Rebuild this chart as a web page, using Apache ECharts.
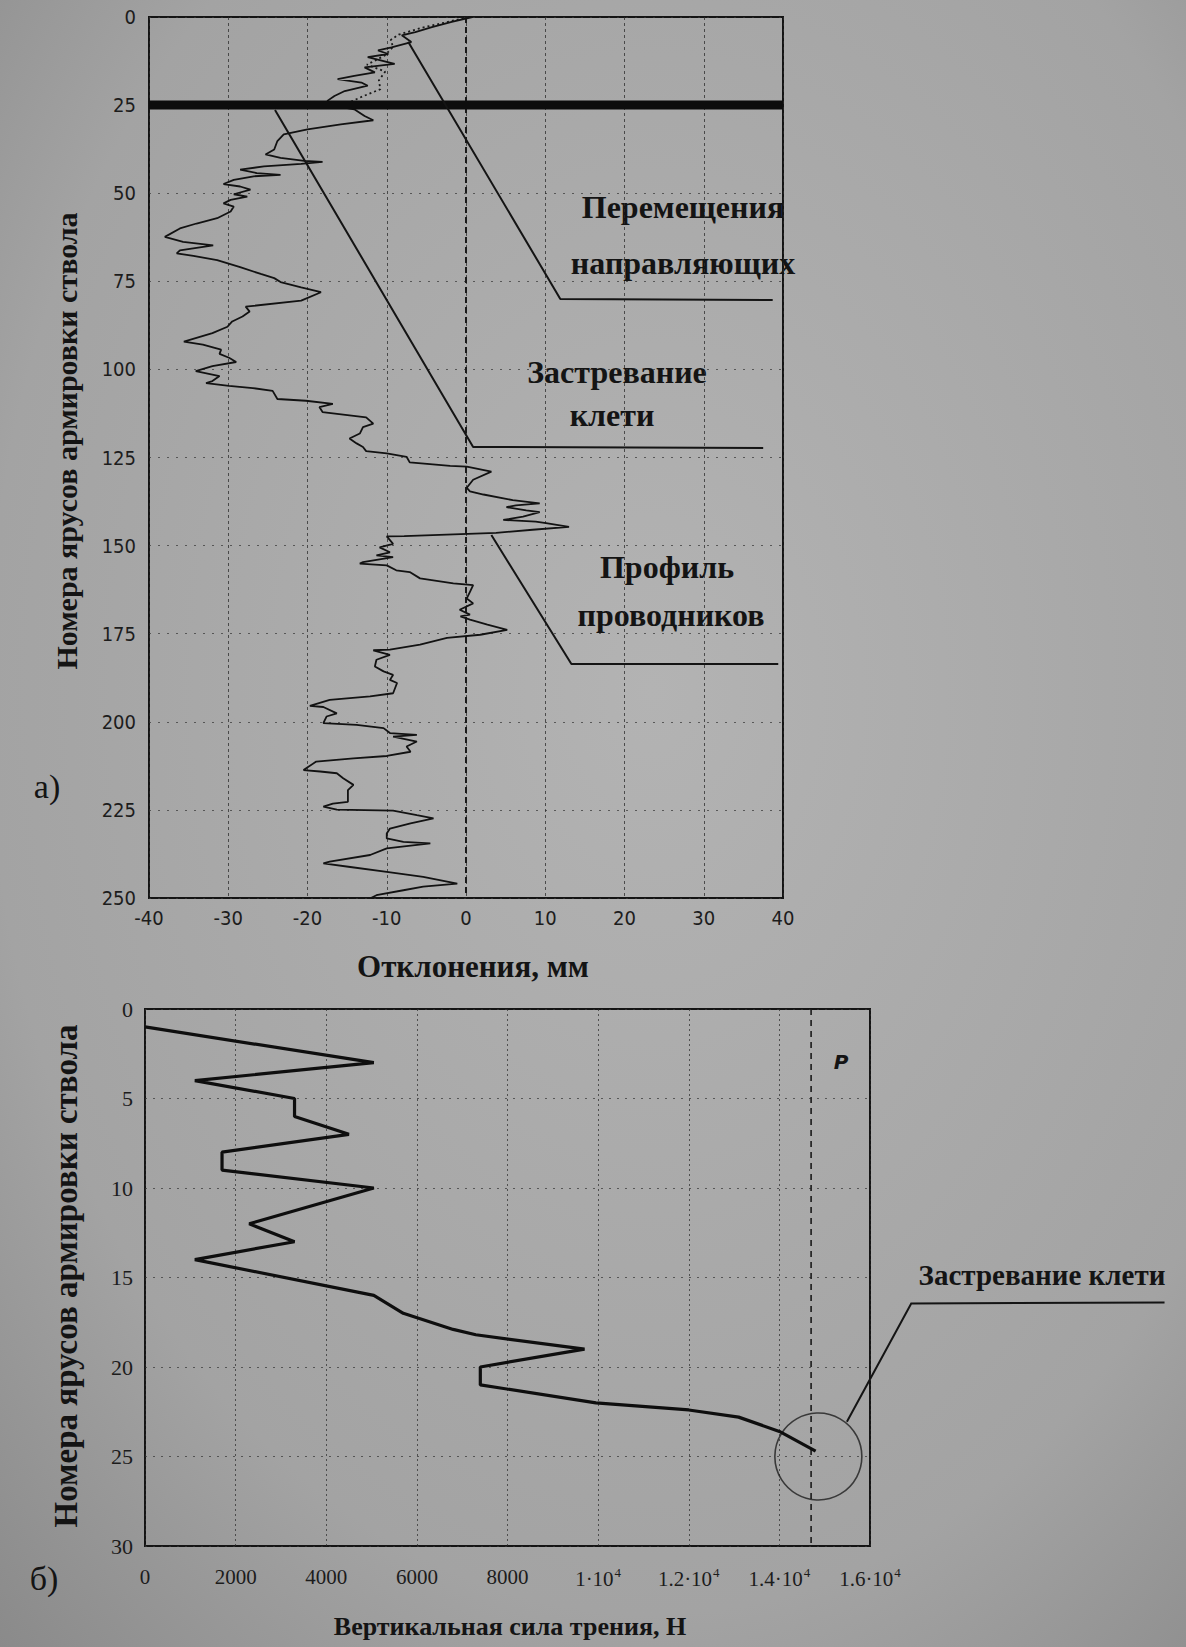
<!DOCTYPE html>
<html>
<head>
<meta charset="utf-8">
<script src="https://cdn.jsdelivr.net/npm/echarts@6/dist/echarts.min.js"></script>
<style>
html,body{margin:0;padding:0;background:#a4a4a4;}
#chart{width:1186px;height:1647px;}
</style>
</head>
<body>
<div id="chart"></div>
<script>
// ---------- Chart (a): profile of guides ----------
const profDepth = [0,1.4,2.9,4.3,5.2,7.1,8.6,9.5,10.5,11.4,13.3,14.3,15.7,16.7,17.6,18.6,19.5,21.0,22.4,23.8,25.2,26.2,28.1,29.3,30.5,31.9,33.3,35.2,37.6,39.0,40.0,40.8,41.1,41.7,42.4,43.3,44.3,44.8,45.2,46.2,47.4,48.1,49.0,50.3,51.0,51.9,52.9,53.8,55.2,57.1,58.6,60.0,62.4,63.8,64.8,66.2,67.1,67.8,69.0,71.0,72.9,74.1,75.2,76.7,78.1,80.5,82.2,83.6,85.0,86.4,87.9,89.7,92.1,93.0,94.4,95.6,96.7,97.9,99.1,100.5,101.9,103.3,103.9,104.7,105.3,106.1,108.4,108.9,109.8,110.7,112.1,113.6,115.4,116.4,118.2,119.6,121.0,122.0,123.2,123.8,124.8,126.4,127.4,127.6,129.0,131.3,133.6,134.6,135.5,137.1,138.0,138.6,139.1,140.0,140.5,141.8,142.7,143.2,143.6,144.7,145.5,146.4,147.3,147.4,149.5,150.5,151.9,152.8,153.3,154.7,155.1,155.6,157.0,157.5,159.3,160.7,161.2,163.1,165.0,166.4,168.2,169.6,170.1,171.0,172.4,173.9,175.3,176.2,178.1,179.5,179.7,181.0,182.4,184.3,185.7,186.7,188.1,189.0,191.9,192.8,193.8,195.5,195.8,197.6,198.5,200.4,200.9,201.8,203.2,203.7,204.2,205.6,207.0,208.5,209.7,210.4,211.3,213.7,214.1,214.6,216.0,217.9,219.4,222.7,223.2,224.1,224.9,225.2,226.5,227.4,228.8,230.3,231.7,233.1,234.1,234.5,235.9,237.8,239.7,240.2,241.2,242.6,244.0,245.9,246.8,247.8,249.2,250];
const profDev = [0.8,-1.8,-4.3,-6.4,-8.1,-6.9,-9.4,-11.1,-9.8,-12.4,-9.0,-12.8,-11.5,-14.1,-16.2,-13.2,-12.4,-15.3,-16.6,-17.5,-16.6,-14.1,-12.8,-11.7,-15.8,-20.0,-23.0,-23.8,-24.2,-25.3,-23.4,-20.4,-18.1,-20.8,-25.5,-28.5,-26.4,-23.4,-26.8,-29.3,-30.6,-28.5,-27.2,-29.3,-27.6,-29.7,-30.6,-29.3,-29.7,-31.4,-34.0,-36.1,-38.0,-35.7,-31.9,-36.1,-36.5,-34.4,-31.4,-28.5,-25.9,-24.2,-23.4,-20.8,-18.3,-20.8,-27.8,-27.3,-28.2,-29.5,-30.1,-32.0,-35.6,-33.2,-30.9,-31.1,-29.9,-29.0,-32.0,-34.1,-31.1,-32.0,-32.8,-29.9,-26.9,-24.4,-23.8,-20.2,-16.8,-18.5,-18.1,-12.6,-11.7,-13.0,-13.4,-14.7,-13.8,-13.0,-12.6,-10.0,-7.5,-7.1,-2.0,0.1,3.2,0.9,0.1,0.5,2.2,5.9,9.3,6.3,5.1,7.6,9.3,7.2,4.7,8.8,10.1,13.0,8.4,3.8,-7.8,-10.0,-9.2,-10.9,-9.6,-11.3,-9.2,-13.0,-13.4,-10.0,-8.8,-7.1,-5.8,-1.6,0.9,0.5,0.1,0.9,-0.8,0.5,-0.7,0.5,2.7,5.2,1.8,-2.4,-5.8,-9.6,-11.7,-9.6,-11.3,-11.5,-10.4,-9.2,-9.6,-8.7,-9.2,-12.1,-17.2,-19.7,-18.0,-16.3,-17.6,-18.0,-13.8,-10.4,-9.6,-6.2,-9.2,-6.2,-7.5,-7.0,-10.0,-14.2,-18.9,-20.5,-18.4,-16.3,-15.5,-14.2,-14.9,-14.9,-16.8,-18.0,-16.3,-9.2,-6.2,-4.1,-7.0,-9.6,-10.0,-10.0,-7.9,-4.5,-10.0,-12.1,-17.2,-18.0,-14.6,-10.0,-5.4,-1.1,-5.4,-7.9,-11.3,-12.0];
const guideDepth = [0,1.5,3,5,6.5,8.5,11,13.5,15.5,18,20.5,22.5,24.5];
const guideDev = [0.3,-2.5,-5.5,-8.5,-9.5,-9.2,-10.3,-12.5,-10.2,-11.0,-10.8,-13.0,-15.0];
const stuckLevel = 25;
const devRange = [-40, 40];
const depthRange = [0, 250];
const leaderGuides = [[-7.3, 7], [11.9, 80.0], [38.7, 80.3]];
const leaderStuck = [[-24.1, 26.4], [0.9, 122.0], [37.5, 122.3]];
const leaderProfile = [[3.2, 147.0], [13.3, 183.6], [39.4, 183.6]];

// ---------- Chart (б): vertical friction force ----------
const forceLevel = [1,3,4,5,6,7,8,9,10,12,13,14,16,17,17.9,18.2,19,20,21,22,22.4,22.8,23.6,24.7];
const forceValue = [0,5050,1100,3300,3300,4500,1700,1700,5050,2300,3300,1100,5050,5700,6800,7300,9700,7400,7400,9950,12000,13100,14000,14800];
const forceTicks = [0,2000,4000,6000,8000,10000,12000,14000,16000];
const levelRange = [0, 30];
const pLimit = 14700;
const stuckCircle = [14860, 25];
const leaderForce = [[15490, 23.06], [16910, 16.45], [22500, 16.4]];

const ink = '#141414';
const serif = "'Liberation Serif','DejaVu Serif',serif";
const mono = "'DejaVu Sans Condensed','DejaVu Sans',sans-serif";

function fmtForce(v) {
  if (v < 10000) return String(v);
  const m = v / 10000;
  return '{m|' + (m === 1 ? '1' : m.toFixed(1)) + '·10}{e|4}';
}

const chart = echarts.init(document.getElementById('chart'), null, {renderer: 'svg', width: 1186, height: 1647});

const leaderStyle = {color: ink, width: 2};
function lineSeries(data, x, y, style, extra) {
  return Object.assign({
    type: 'line', xAxisIndex: x, yAxisIndex: y, data: data,
    symbol: 'none', animation: false, silent: true, lineStyle: style
  }, extra || {});
}
function label(x, y, text, font, rot) {
  return {type: 'text', x: x, y: y, rotation: rot || 0,
    style: {text: text, font: font, fill: ink, align: 'center', verticalAlign: 'middle'}};
}

const graphics = [
  label(66, 441, 'Номера ярусов армировки ствола', 'bold 30px ' + serif, Math.PI / 2),
  label(66, 1276, 'Номера ярусов армировки ствола', 'bold 33px ' + serif, Math.PI / 2),
  label(473, 966, 'Отклонения, мм', 'bold 31px ' + serif),
  label(510, 1626, 'Вертикальная сила трения, Н', 'bold 26px ' + serif),
  label(47, 786, 'а)', '34px ' + serif),
  label(44, 1578, 'б)', '34px ' + serif),
  label(683, 207, 'Перемещения', 'bold 32px ' + serif),
  label(683, 263, 'направляющих', 'bold 32px ' + serif),
  label(617, 372, 'Застревание', 'bold 32px ' + serif),
  label(612, 415, 'клети', 'bold 32px ' + serif),
  label(667, 567, 'Профиль', 'bold 32px ' + serif),
  label(671, 615, 'проводников', 'bold 32px ' + serif),
  label(1042, 1275, 'Застревание клети', 'bold 29px ' + serif),
  label(841, 1062, 'P', "italic bold 20px 'DejaVu Sans',sans-serif")
];

const option = {
  backgroundColor: {
    type: 'radial', x: 0.55, y: 0.42, r: 0.8,
    colorStops: [{offset: 0, color: '#b3b3b3'}, {offset: 0.7, color: '#a3a3a3'}, {offset: 1, color: '#8a8a8a'}]
  },
  grid: [
    {left: 149, top: 17, width: 634, height: 881, show: true, borderColor: ink, borderWidth: 2, backgroundColor: 'transparent'},
    {left: 145, top: 1009, width: 725, height: 537, show: true, borderColor: ink, borderWidth: 2, backgroundColor: 'transparent'}
  ],
  xAxis: [
    {gridIndex: 0, type: 'value', min: devRange[0], max: devRange[1], interval: 10,
     axisLine: {show: false}, axisTick: {show: false},
     splitLine: {show: true, lineStyle: {color: '#2a2a2a', type: [3, 3], width: 1, opacity: 0.75}},
     axisLabel: {fontFamily: mono, fontSize: 20, color: '#1c1c1c', margin: 10}},
    {gridIndex: 1, type: 'value', min: forceTicks[0], max: forceTicks[forceTicks.length - 1], interval: 2000,
     axisLine: {show: false}, axisTick: {show: false},
     splitLine: {show: true, lineStyle: {color: '#2a2a2a', type: [2, 3], width: 1, opacity: 0.7}},
     axisLabel: {fontFamily: serif, fontSize: 21, color: '#1c1c1c', margin: 20, formatter: fmtForce,
       rich: {m: {fontFamily: serif, fontSize: 21, color: '#1c1c1c', lineHeight: 26},
              e: {fontFamily: serif, fontSize: 13, color: '#1c1c1c', lineHeight: 26, verticalAlign: 'top', padding: [0, 0, 10, 1]}}}}
  ],
  yAxis: [
    {gridIndex: 0, type: 'value', inverse: true, min: depthRange[0], max: depthRange[1], interval: 25,
     axisLine: {show: false}, axisTick: {show: false},
     splitLine: {show: true, lineStyle: {color: '#333', type: [2, 7], width: 1, opacity: 0.7}},
     axisLabel: {fontFamily: mono, fontSize: 20, color: '#1c1c1c', margin: 13}},
    {gridIndex: 1, type: 'value', inverse: true, min: levelRange[0], max: levelRange[1], interval: 5,
     axisLine: {show: false}, axisTick: {show: false},
     splitLine: {show: true, lineStyle: {color: '#333', type: [2, 6], width: 1, opacity: 0.7}},
     axisLabel: {fontFamily: serif, fontSize: 22, color: '#1c1c1c', margin: 12}}
  ],
  series: [
    lineSeries([[0, depthRange[0]], [0, depthRange[1]]], 0, 0, {color: '#1a1a1a', width: 2, type: [6, 4]}),
    lineSeries(guideDev.map((x, i) => [x, guideDepth[i]]), 0, 0, {color: '#1a1a1a', width: 1.8, type: [2, 3]}),
    lineSeries(profDev.map((x, i) => [x, profDepth[i]]), 0, 0, {color: '#121212', width: 1.8}),
    lineSeries([[devRange[0], stuckLevel], [devRange[1], stuckLevel]], 0, 0, {color: '#0d0d0d', width: 9}),
    lineSeries(leaderGuides, 0, 0, leaderStyle),
    lineSeries(leaderStuck, 0, 0, leaderStyle),
    lineSeries(leaderProfile, 0, 0, leaderStyle),
    lineSeries([[pLimit, levelRange[0]], [pLimit, levelRange[1]]], 1, 1, {color: '#1a1a1a', width: 1.6, type: [6, 5]}),
    lineSeries(forceValue.map((x, i) => [x, forceLevel[i]]), 1, 1, {color: '#0e0e0e', width: 3.2}),
    {type: 'scatter', xAxisIndex: 1, yAxisIndex: 1, data: [stuckCircle], symbol: 'circle', symbolSize: 87,
     itemStyle: {color: 'transparent', borderColor: '#1e1e1e', borderWidth: 1.6}, animation: false, silent: true}
  ],
  graphic: graphics
};
chart.setOption(option);

// leader of the bottom annotation: leaves the plot area, so it is drawn through the axis scales
const leaderPts = leaderForce.map(p => chart.convertToPixel({gridIndex: 1}, p));
chart.setOption({graphic: graphics.concat([{
  type: 'polyline', shape: {points: leaderPts}, style: {stroke: ink, lineWidth: 2, fill: null}, silent: true
}])});
</script>
</body>
</html>
